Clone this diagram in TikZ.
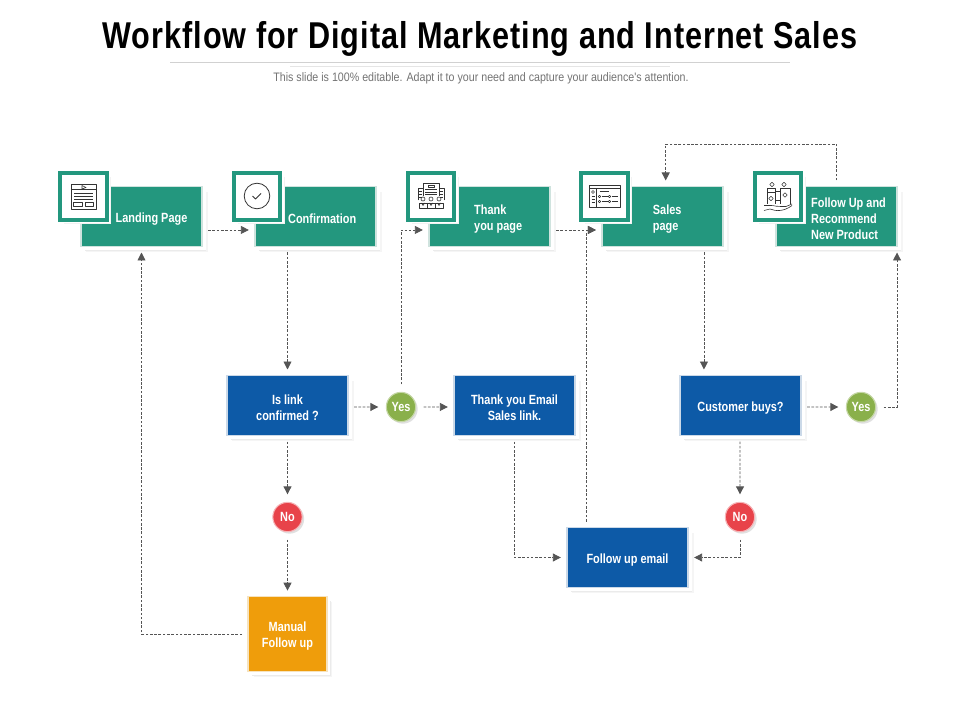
\documentclass[tikz,border=0pt]{standalone}
\usepackage{fontspec}
\setmainfont{Liberation Sans}
\newfontfamily\condfont[FakeStretch=0.82]{Liberation Sans}
\newfontfamily\titlefont[FakeStretch=0.82,LetterSpace=2.6]{Liberation Sans}
\newfontfamily\subfont[FakeStretch=0.87]{Liberation Sans}
\usetikzlibrary{arrows.meta,shadows}
\definecolor{tealbox}{HTML}{23977E}
\definecolor{tealrim}{HTML}{CFE3DE}
\definecolor{bluebox}{HTML}{0D5AA7}
\definecolor{bluerim}{HTML}{CBD9E8}
\definecolor{orangebox}{HTML}{EF9D0B}
\definecolor{orangerim}{HTML}{F6E3BF}
\definecolor{yesgreen}{HTML}{8AB04B}
\definecolor{nored}{HTML}{E8434A}
\definecolor{flowgray}{HTML}{555555}
\definecolor{icondark}{HTML}{333333}
\tikzset{
	card/.style={rectangle,line width=1.1pt,outer sep=4.5pt,
		general shadow={fill=black!4,shadow xshift=4pt,shadow yshift=-4pt},
		general shadow={fill=black!8,shadow xshift=3.2pt,shadow yshift=-3.2pt},
		general shadow={fill=white,shadow xshift=2.2pt,shadow yshift=-2.2pt,shadow scale=1.01}},
	stage/.style={card,fill=tealbox,draw=tealrim,minimum width=91pt,minimum height=45pt},
	query/.style={card,fill=bluebox,draw=bluerim,minimum width=91pt,minimum height=45pt},
	manual/.style={card,fill=orangebox,draw=orangerim,minimum width=59pt,minimum height=56pt},
	boxtext/.style={text=white,font=\condfont\bfseries\fontsize{10pt}{12pt}\selectfont,align=center,yshift=-1.8pt},
	boxleft/.style={boxtext,align=left},
	badge/.style={circle,minimum size=22pt,inner sep=0pt,outer sep=6pt,text=white,line width=0.8pt,
		font=\condfont\bfseries\fontsize{10pt}{12pt}\selectfont,
		general shadow={fill=black!12,shadow xshift=1.5pt,shadow yshift=-1.5pt}},
	iconbox/.style={rectangle,fill=white,draw=tealbox,line width=3pt,minimum size=35pt,inner sep=0pt,
		general shadow={fill=black!5,shadow xshift=3.2pt,shadow yshift=-3.2pt},
		general shadow={fill=black!9,shadow xshift=2.4pt,shadow yshift=-2.4pt},
		general shadow={fill=white,shadow xshift=1.2pt,shadow yshift=-1.2pt,shadow scale=1.08}},
	flow/.style={draw=flowgray,dashed,dash pattern=on 2pt off 1.2pt,line width=0.65pt,
		-{Triangle[length=6pt,width=6pt,fill=flowgray]}},
	glyph/.style={draw=icondark,line width=0.45pt,line join=round}
}
\begin{document}
\begin{tikzpicture}[x=0.75pt,y=-0.75pt]
	\useasboundingbox (0,0) rectangle (960,720);
	\node[font=\titlefont\bfseries\fontsize{28pt}{30pt}\selectfont] (title) at (480,39) {Workflow for Digital Marketing and Internet Sales};
	\draw[black!18,line width=0.5pt] (170,62.5) -- (790,62.5);
	\draw[black!10,line width=0.5pt] (290,66) -- (670,66);
	\node[text=black!55,font=\subfont\fontsize{9.2pt}{11pt}\selectfont] (subtitle) at (481,78) {This slide is 100\% editable. Adapt it to your need and capture your audience's attention.};
	% top row
	\node[stage,label={[boxtext]center:{\hspace*{15pt}Landing Page}}] (landing) at (141.5,216.5) {};
	\node[stage,label={[boxtext]center:{\hspace*{10pt}Confirmation}}] (confirm) at (315.5,216.5) {};
	\node[stage,label={[boxleft,xshift=6.5pt]center:{Thank\\you page}}] (thank) at (489.5,216.5) {};
	\node[stage,label={[boxleft,xshift=3.5pt]center:{Sales\\page}}] (sales) at (662.5,216.5) {};
	\node[stage,label={[boxleft,xshift=9pt]center:{Follow Up and\\Recommend\\New Product}}] (follow) at (836.5,216.5) {};
	% middle row
	\node[query,label={[boxtext]center:{Is link\\confirmed ?}}] (islink) at (287.5,405.5) {};
	\node[query,label={[boxtext]center:{Thank you Email\\Sales link.}}] (email) at (514.5,405.5) {};
	\node[query,label={[boxtext]center:{Customer buys?}}] (buys) at (740.5,405.5) {};
	\node[query,label={[boxtext]center:{Follow up email}}] (mail) at (627.5,557.5) {};
	\node[manual,label={[boxtext]center:{Manual\\Follow up}}] (manualup) at (287.5,634) {};
	\node[badge,fill=yesgreen,draw=yesgreen!50] (yesa) at (401,407) {Yes};
	\node[badge,fill=yesgreen,draw=yesgreen!50] (yesb) at (861,407) {Yes};
	\node[badge,fill=nored,draw=nored!40] (noa) at (287.5,517) {No};
	\node[badge,fill=nored,draw=nored!40] (nob) at (740,517) {No};
	% icons
	\node[iconbox] (iconpage) at (83.5,196.5) {};
	\node[iconbox] (iconcheck) at (257,196.5) {};
	\node[iconbox] (iconoffice) at (431,196.5) {};
	\node[iconbox] (iconlist) at (604.5,196.5) {};
	\node[iconbox] (iconhand) at (778,196.5) {};
	\begin{scope}[shift={(iconpage.center)},glyph]
		\draw (-12.5,-12.5) rectangle (12.5,12.5);
		\draw (-12.5,-7) -- (12.5,-7);
		\draw (-1.5,-11) -- (2.5,-9) -- (-1.5,-7.5) -- cycle;
		\foreach \y in {-3,0,3} \draw (-9.5,\y) -- (9.5,\y);
		\draw (-10,6) rectangle (-1.5,10);
		\draw (1.5,6) rectangle (10,10);
	\end{scope}
	\begin{scope}[shift={(iconcheck.center)},glyph]
		\draw[line width=0.6pt] (0,-0.5) circle (12.8);
		\draw[line width=0.6pt] (-4.5,-0.5) -- (-1.5,2.5) -- (4,-3);
	\end{scope}
	\begin{scope}[shift={(iconoffice.center)},glyph]
		\draw (-8,0) -- (-8,-13) -- (8,-13) -- (8,0);
		\draw (-13,4) -- (-13,-8) -- (-8,-8);
		\draw (13,4) -- (13,-8) -- (8,-8);
		\draw (-3,-11) rectangle (3,-9);
		\foreach \y in {-7,-4.5,-2} \draw (-6,\y) -- (6,\y);
		\foreach \x in {-10.5,10.5} \foreach \y in {-5,-2,1} \draw (\x-1.5,\y) -- (\x+1.5,\y);
		\foreach \x in {-8,0,8} {
			\draw (\x,2.5) circle (2);
			\draw (\x-3.8,12) -- (\x-3.8,6.5) -- (\x+3.8,6.5) -- (\x+3.8,12) -- cycle;
			\draw (\x-1.5,6.5) -- (\x,9) -- (\x+1.5,6.5);
		}
	\end{scope}
	\begin{scope}[shift={(iconlist.center)},glyph]
		\draw (-15.5,-11.5) rectangle (15.5,10.5);
		\draw (-15.5,-8) -- (15.5,-8);
		\draw (-8,-8) -- (-8,10.5);
		\draw (-11.5,-4.5) circle (1.5);
		\draw (-13,0) -- (-10,0) (-13,3) -- (-10,3) (-13,6) -- (-10,6);
		\draw (-5,-5) -- (4,-5);
		\foreach \x in {-5,5} \foreach \y in {0,5} {
			\draw (\x,\y) circle (1.2);
			\draw (\x+2,\y) -- (\x+8,\y);
		}
	\end{scope}
	\begin{scope}[shift={(iconhand.center)},glyph]
		\draw (-11,7.5) -- (-11,-8.5) -- (-3,-8.5) -- (-3,7.5);
		\draw (-11,-4) -- (-3,-4);
		\draw (-3,4) -- (-3,-5) -- (2,-5) -- (2,4) -- cycle;
		\draw (2,7.5) -- (2,-8.5) -- (12,-8.5) -- (12,7.5);
		\draw (-14,9) -- (-8,9) .. controls (-3,8.5) and (-1,11) .. (3,10) -- (8,10) -- (14,7.5);
		\draw (-14,14) -- (-8,12.5) .. controls (-2,15) and (6,15) .. (14,9);
		\foreach \x/\y in {-7/2,7/-1.5,-6/-12,6/-12} \draw (\x-2.2,\y) -- (\x,\y-2.2) -- (\x+2.2,\y) -- (\x,\y+2.2) -- cycle;
	\end{scope}
	% connectors
	\coordinate (looptop) at (750,144);
	\draw[flow] ([yshift=-10.1pt]landing.east) -- ([yshift=-10.1pt]confirm.west);
	\draw[flow] ([xshift=-21pt]confirm.south) -- (islink.north);
	\draw[flow] ([yshift=-1.1pt]islink.east) -- (yesa.west);
	\draw[flow] (yesa.east) -- ([yshift=-1.1pt]email.west);
	\draw[flow] (yesa.north) |- ([yshift=-10.1pt]thank.west);
	\draw[flow] ([yshift=-10.1pt]thank.east) -- ([yshift=-10.1pt]sales.west);
	\draw[flow] ([xshift=-31.1pt]mail.north) |- ([yshift=-10.1pt]sales.west);
	\draw[flow] (email.south) |- (mail.west);
	\draw[flow] (islink.south) -- (noa.north);
	\draw[flow] (noa.south) -- (manualup.north);
	\draw[flow] (manualup.west) -| (landing.south);
	\draw[flow] ([xshift=31.1pt]sales.south) -- ([xshift=-27.4pt]buys.north);
	\draw[flow] ([yshift=-1.1pt]buys.east) -- (yesb.west);
	\draw[flow] (yesb.east) -| ([xshift=45.4pt]follow.south);
	\draw[flow] ([xshift=-0.4pt]buys.south) -- (nob.north);
	\draw[flow] (nob.south) |- (mail.east);
	\draw[flow] (follow.north) |- (looptop) -| ([xshift=2.4pt]sales.north);
\end{tikzpicture}
\end{document}
